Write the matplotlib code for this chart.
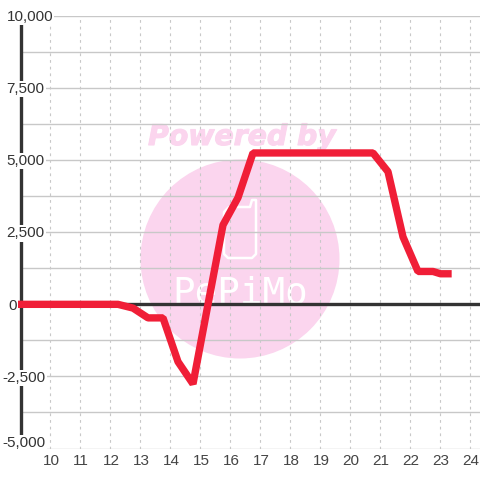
import matplotlib
matplotlib.use("Agg")
import matplotlib.pyplot as plt
import matplotlib.patheffects as pe
from matplotlib.patches import Circle, Polygon
from matplotlib.transforms import Affine2D

plt.rcParams['font.family'] = ['Liberation Sans', 'DejaVu Sans']

# half hour readings
hours = [9.0, 9.75, 10.25, 10.75, 11.25, 11.75, 12.25, 12.75, 13.25, 13.75, 14.25, 14.75,
         15.25, 15.75, 16.25, 16.75, 17.25, 17.75, 18.25, 18.75, 19.25, 19.75, 20.25, 20.75,
         21.25, 21.75, 22.25, 22.75, 23.0, 23.25]
values = [0, 0, 0, 0, 0, 0, 0, -130, -470, -470, -1990, -2760,
          0, 2750, 3700, 5250, 5250, 5250, 5250, 5250, 5250, 5250, 5250, 5250,
          4600, 2340, 1140, 1140, 1060, 1060]

y_labels = [10000, 7500, 5000, 2500, 0, -2500, -5000]
x_ticks = list(range(10, 25))

W = 480
fig = plt.figure(figsize=(4.8, 4.8), dpi=100)
ax = fig.add_axes([20.5 / W, (W - 448.5) / W, (W - 20.5) / W, 432.5 / W])
ax.set_xlim(9, 24.317)
ax.set_ylim(-5000, 10000)
ax.patch.set_alpha(0)
fig.patch.set_facecolor('white')

for s in ['top', 'right', 'bottom']:
    ax.spines[s].set_visible(False)
ax.spines['left'].set_linewidth(2.4)
ax.spines['left'].set_color('#333333')
ax.spines['left'].set_zorder(3)
ax.spines['left'].set_bounds(-4700, 10000)

ax.set_xticks(x_ticks)
ax.set_yticks(range(-5000, 10001, 1250))
ax.tick_params(length=0, labelleft=False, labelbottom=False)
ax.grid(axis='y', color='#c8c8c8', lw=1.0, zorder=1)
ax.grid(axis='x', color='#c8c8c8', lw=0.8, ls=(0, (2.5, 3.5)), zorder=1)
ax.set_axisbelow(True)

# watermark in pixel coordinates
px = Affine2D().scale(1, -1).translate(0, W)
fig.patches.append(Circle((240, 259), 99.5, transform=px, fc='#fbd5ee', ec='none', zorder=-5))
phone = [(224, 254), (224, 212), (229, 207), (250, 207), (252, 200), (256, 200),
         (256, 254), (252, 258), (228, 258)]
fig.patches.append(Polygon(phone, closed=True, transform=px, fc='none', ec='white', lw=1.8,
                           joinstyle='round', zorder=-4))
fig.text(242, W - 145, "Powered by", transform=None, ha='center', va='baseline',
         family='DejaVu Sans', weight='bold', style='italic', fontsize=20.4, color='#fbd5ee',
         zorder=-4, path_effects=[pe.withStroke(linewidth=0.8, foreground='#fbd5ee')])
fig.text(240, W - 304, "PePiMo", transform=None, ha='center', va='baseline',
         family='DejaVu Sans Mono', fontsize=27, color='white', zorder=-4)

ax.axhline(0, color='#333333', lw=2.4, zorder=2, clip_on=False)
ax.plot(hours, values, color='#f01e37', lw=5.3, solid_capstyle='projecting',
        solid_joinstyle='bevel', clip_on=False, zorder=4)

label_style = dict(fontsize=11, color='#333333', va='center', zorder=5,
                   bbox=dict(fc='white', ec='none', pad=0.8))
for v in y_labels:
    left = 2.5 if v < 0 else 6.5
    if v == 0:
        left = 8
    y = ax.transData.transform((9, v))[1] - 1.2
    if v == -5000:
        y += 6.5
    fig.text(left, y, f"{v:,}", transform=None, ha='left', **label_style)

for h in x_ticks:
    ax.annotate(str(h), (h, -5000), xytext=(0.5, -12.8 * 0.72), textcoords='offset points',
                ha='center', va='center', fontsize=11, color='#444444', annotation_clip=False)

fig.savefig("out.png", dpi=100)
